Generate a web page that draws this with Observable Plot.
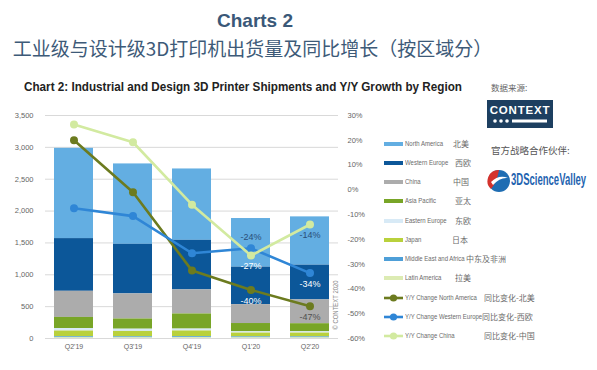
<!DOCTYPE html>
<html>
<head>
<meta charset="utf-8">
<script src="https://cdn.jsdelivr.net/npm/d3@7"></script>
<script src="https://cdn.jsdelivr.net/npm/@observablehq/plot@0.6"></script>
<style>
  html, body { margin: 0; padding: 0; background: #fff; }
  #wrap { position: relative; width: 597px; height: 370px; overflow: hidden; background: #fff;
          font-family: "Liberation Sans", Arial, sans-serif; }
  #wrap > svg { position: absolute; left: 0; top: 0; }
  .abs { position: absolute; white-space: nowrap; }
  .cjk { font-family: "Noto Sans CJK SC", "Noto Sans", sans-serif; }
  .leg { position: absolute; font-size: 7.5px; color: #6b6b6b; line-height: 10px; white-space: nowrap; }
  .narrow { transform-origin: 0 50%; transform: scaleX(0.8); }
</style>
</head>
<body>
<div id="wrap"></div>
<script>
// ---------- data ----------
const quarters = ["Q2'19", "Q3'19", "Q4'19", "Q1'20", "Q2'20"];
const northAmerica      = [1417, 1262, 1120, 763, 758];
const westernEurope     = [827, 778, 778, 588, 545];
const china             = [410, 394, 378, 297, 374];
const asiaPacific       = [174, 160, 237, 130, 127];
const easternEurope     = [40, 35, 30, 20, 20];
const japan             = [90, 85, 90, 60, 60];
const middleEastAfrica  = [15, 15, 15, 15, 15];
const latinAmerica      = [12, 11, 13, 10, 10];

const yoyNorthAmerica   = [20, -1, -32.6, -40.4, -47];
const yoyWesternEurope  = [-7.4, -10.6, -25.6, -23.6, -33.6];
const yoyChina          = [26.4, 19.2, -6, -26.5, -14];

const leftTicks  = [0, 500, 1000, 1500, 2000, 2500, 3000, 3500];
const rightTicks = [-60, -50, -40, -30, -20, -10, 0, 10, 20, 30];

const labelQuarters = ["Q1'20", "Q1'20", "Q1'20", "Q2'20", "Q2'20", "Q2'20"];
const labelSeries   = ["Y/Y Change Western Europe", "Y/Y Change China", "Y/Y Change North America",
                       "Y/Y Change China", "Y/Y Change Western Europe", "Y/Y Change North America"];
const labelTexts    = ["-24%", "-27%", "-40%", "-14%", "-34%", "-47%"];

const regions   = ["North America", "Western Europe", "China", "Asia Pacific", "Eastern Europe", "Japan", "Middle East and Africa", "Latin America"];
const regionsCn = ["北美", "西欧", "中国", "亚太", "东欧", "日本", "中东及非洲", "拉美"];
const regionValues = [northAmerica, westernEurope, china, asiaPacific, easternEurope, japan, middleEastAfrica, latinAmerica];
const regionColors = ["#63aee2", "#0c5799", "#acacac", "#78a527", "#d8eaf6", "#b9d13c", "#4e9fd8", "#dcebb3"];

const yoySeries   = ["Y/Y Change North America", "Y/Y Change Western Europe", "Y/Y Change China"];
const yoySeriesCn = ["同比变化-北美", "同比变化-西欧", "同比变化-中国"];
const yoyValues   = [yoyNorthAmerica, yoyWesternEurope, yoyChina];
const yoyColors   = ["#6c7b1f", "#2f86d6", "#d2eaa0"];

// ---------- derived tables ----------
const pctMin = -60, pctMax = 30, yMax = 3500;
const toY = p => (p - pctMin) / (pctMax - pctMin) * yMax;
const fromY = v => Math.round(v / yMax * (pctMax - pctMin) + pctMin);

const barRows = [];
regions.forEach((r, i) => quarters.forEach((q, j) => barRows.push({q, region: r, v: regionValues[i][j]})));
const stackOrder = regions.slice().reverse(); // bottom to top

const lineRows = [];
yoySeries.forEach((s, i) => quarters.forEach((q, j) => lineRows.push({q, series: s, p: yoyValues[i][j], y: toY(yoyValues[i][j])})));

const labelRows = labelTexts.map((t, i) => {
  const si = yoySeries.indexOf(labelSeries[i]);
  const qi = quarters.indexOf(labelQuarters[i]);
  return {q: labelQuarters[i], series: labelSeries[i], text: t, y: toY(yoyValues[si][qi])};
});
const isAbove = d => d.text === "-24%";
const labelFill = d => (d.text === "-24%" || d.text === "-14%") ? "#2a4d78" : (d.text === "-47%" ? "#505050" : "#ffffff");

const FONT = '"Liberation Sans", Arial, sans-serif';

const chart = Plot.plot({
  width: 597,
  height: 370,
  marginLeft: 45,
  marginRight: 259,
  marginTop: 115,
  marginBottom: 32,
  style: {fontFamily: FONT, fontSize: "7.5px", color: "#666", background: "transparent", overflow: "visible"},
  x: {domain: quarters, paddingInner: 0.34, paddingOuter: 0.14, label: null},
  y: {domain: [0, yMax], label: null},
  color: {domain: regions.concat(yoySeries), range: regionColors.concat(yoyColors)},
  marks: [
    Plot.gridY(leftTicks, {stroke: "#d9d9d9", strokeOpacity: 1}),
    Plot.axisY(leftTicks, {anchor: "left", tickSize: 0, tickPadding: 12, tickFormat: d3.format(","), fill: "#666"}),
    Plot.axisY(rightTicks.map(toY), {anchor: "right", tickSize: 0, tickPadding: 9, tickFormat: v => fromY(v) + "%", fill: "#666"}),
    Plot.axisX({tickSize: 0, tickPadding: 6, fill: "#666", fontSize: 7}),
    Plot.barY(barRows, {x: "q", y: "v", z: "region", fill: "region", order: stackOrder}),
    Plot.line(lineRows, {x: "q", y: "y", z: "series", stroke: "series", strokeWidth: 2.6}),
    Plot.dot(lineRows, {x: "q", y: "y", fill: "series", r: 4}),
    Plot.text(labelRows.filter(isAbove), {x: "q", y: "y", text: "text", dy: -11, fill: labelFill, fontSize: 9}),
    Plot.text(labelRows.filter(d => !isAbove(d)), {x: "q", y: "y", text: "text", dy: 11, fill: labelFill, fontSize: 9})
  ]
});

const wrap = document.getElementById("wrap");
wrap.appendChild(chart);

function add(html, style, cls) {
  const d = document.createElement("div");
  d.className = cls || "abs";
  d.innerHTML = html;
  Object.assign(d.style, style);
  wrap.appendChild(d);
  return d;
}

// titles
add("Charts 2", {left: "0px", width: "510px", top: "10px", textAlign: "center", fontWeight: "bold", fontSize: "19px", color: "#3a5878"});
add("工业级与设计级3D打印机出货量及同比增长（按区域分）", {left: "0px", width: "505px", top: "34px", textAlign: "center", fontSize: "19px", color: "#3d5a78"}, "abs cjk");
add("Chart 2: Industrial and Design 3D Printer Shipments and Y/Y Growth by Region", {left: "24px", top: "80px", fontWeight: "bold", fontSize: "12.5px", color: "#222", transformOrigin: "0 50%", transform: "scaleX(0.935)"});

// source/logos
add("数据来源:", {left: "491px", top: "81px", fontSize: "8.5px", color: "#666"}, "abs cjk");
add('<svg width="66" height="28"><rect width="66" height="28" fill="#1d3f60"/><text x="33" y="13.5" text-anchor="middle" fill="#fff" font-family="Liberation Sans, Arial" font-weight="bold" font-size="11.5" letter-spacing="0.8">CONTEXT</text><circle cx="8" cy="21" r="1.8" fill="#fff"/><circle cx="14" cy="21" r="1.8" fill="#fff"/><circle cx="20" cy="21" r="1.8" fill="#fff"/><rect x="25" y="19.5" width="35" height="3" fill="#fff"/></svg>', {left: "487px", top: "100px", lineHeight: "0"});
add("官方战略合作伙伴:", {left: "491px", top: "143px", fontSize: "9.5px", color: "#555"}, "abs cjk");
add('<svg width="24" height="26"><circle cx="12" cy="13" r="11" fill="#1f6db3"/><path d="M12 2 A11 11 0 0 0 4 21 Q10 14 12 2 Z" fill="#d4322c"/><path d="M4 14 Q12 6 21 10 Q13 9 6 17 Z" fill="#fff"/></svg>', {left: "487px", top: "168px", lineHeight: "0"});
add("3DScienceValley", {left: "511px", top: "170px", fontWeight: "bold", fontSize: "17px", lineHeight: "20px", color: "#1f64b0", transformOrigin: "0 50%", transform: "scaleX(0.56)"});

// copyright vertical text
add("© CONTEXT 2020", {left: "335px", top: "305px", fontSize: "7px", color: "#888", transform: "translate(-50%,-50%) rotate(-90deg) scaleX(0.85)"});

// legend
const legTop = 138.5, legStep = 19.25;
const cnX = [453, 455, 453, 455, 455, 452, 466, 455];
regions.forEach((r, i) => {
  const y = legTop + i * legStep;
  add(`<svg width="19" height="10" style="vertical-align:top"><rect x="0" y="3" width="19" height="4" fill="${regionColors[i]}"/></svg>`, {left: "384px", top: y + "px", lineHeight: "0"}, "leg");
  add(r, {left: "405px", top: y + "px"}, "leg narrow");
  add(regionsCn[i], {left: cnX[i] + "px", top: y + "px", fontSize: "8px"}, "leg cjk");
});
const cnX2 = [484, 482, 484];
yoySeries.forEach((s, i) => {
  const y = legTop + (regions.length + i) * legStep;
  add(`<svg width="19" height="10" style="vertical-align:top"><line x1="0" y1="5" x2="19" y2="5" stroke="${yoyColors[i]}" stroke-width="2.6"/><circle cx="9.5" cy="5" r="3.6" fill="${yoyColors[i]}"/></svg>`, {left: "384px", top: y + "px", lineHeight: "0"}, "leg");
  add(s, {left: "405px", top: y + "px"}, "leg narrow");
  add(yoySeriesCn[i], {left: cnX2[i] + "px", top: y + "px", fontSize: "8px"}, "leg cjk");
});
</script>
</body>
</html>
